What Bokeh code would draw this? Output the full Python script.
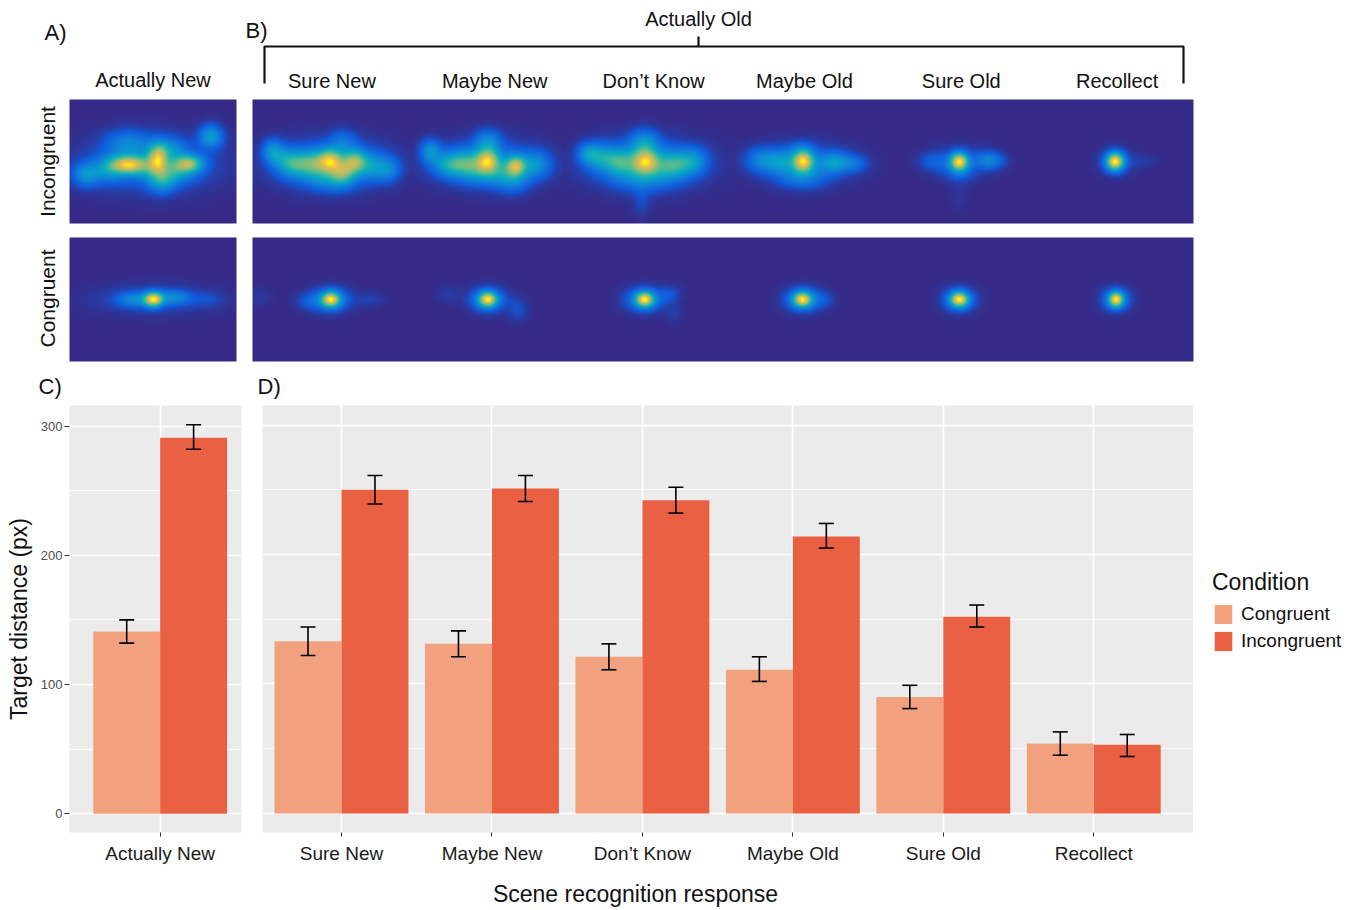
import numpy as np
from bokeh.plotting import figure
from bokeh.models import (Range1d, FixedTicker, LinearColorMapper, Legend, LegendItem,
                          ColumnDataSource, Whisker, TeeHead, Label)
from bokeh.layouts import column, row
from bokeh.embed import file_html
from bokeh.resources import INLINE
from bokeh.core.properties import value

FONT = "Liberation Sans"
INK = "#111111"
CONG_COLOR = "#F2A17F"
INC_COLOR = "#EA6043"
PANEL_BG = "#EBEBEB"

# ---------------- data: bar charts ----------------
conditions = ["Congruent", "Incongruent"]

new_category = ["Actually New"]
new_cong_mean = [141]
new_cong_lo = [132]
new_cong_hi = [150]
new_inc_mean = [291]
new_inc_lo = [282]
new_inc_hi = [301]

responses = ["Sure New", "Maybe New", "Don\u2019t Know", "Maybe Old", "Sure Old", "Recollect"]
cong_mean = [133, 131, 121, 111, 90, 54]
cong_lo = [122, 121, 111, 102, 81, 45]
cong_hi = [144, 141, 131, 121, 99, 63]
inc_mean = [250, 251, 242, 214, 152, 53]
inc_lo = [239, 241, 232, 205, 144, 44]
inc_hi = [261, 261, 252, 224, 161, 61]

y_ticks = [0, 100, 200, 300]
y_minor_ticks = [50, 150, 250]

# ---------------- data: fixation density blobs (dx, dy, sx, sy, weight) ----------------
inc_actually_new = [(-26, 3, 12, 6, 0.6), (4, -3, 6, 10, 0.55), (35, 2, 10, 6, 0.55), (57, -25, 8, 8, 0.35),
                    (8, 20, 9, 8, 0.3), (-67, 13, 9, 8, 0.3), (-45, 8, 11, 9, 0.25), (-25, -18, 15, 9, 0.22),
                    (15, -12, 11, 8, 0.25), (22, 10, 13, 8, 0.28), (-10, 5, 15, 8, 0.25), (-3, 2, 42, 18, 0.18)]
inc_sure_new = [(0, -1, 8, 8, 0.55), (24, 0, 8, 8, 0.5), (12, 11, 8, 8, 0.35), (-15, 2, 10, 9, 0.35),
                (-32, 3, 10, 9, 0.3), (-58, -10, 7, 8, 0.3), (-45, 0, 9, 9, 0.25), (42, 5, 10, 9, 0.25),
                (58, 8, 8, 8, 0.2), (0, 18, 16, 8, 0.22), (12, -20, 9, 8, 0.15), (0, 2, 38, 16, 0.2)]
inc_maybe_new = [(0, -1, 8, 8, 0.6), (28, 4, 7, 7, 0.55), (0, -20, 9, 8, 0.25), (-57, -10, 7, 8, 0.28),
                 (-22, 2, 11, 9, 0.35), (-40, 3, 10, 8, 0.28), (48, 3, 10, 9, 0.25), (25, 18, 11, 9, 0.22),
                 (0, 12, 16, 8, 0.22), (0, 2, 36, 15, 0.2)]
inc_dont_know = [(1, 0, 9, 8, 0.6), (0, -18, 10, 9, 0.3), (-25, 0, 11, 9, 0.35), (-45, -5, 10, 9, 0.28),
                 (-57, -8, 7, 7, 0.22), (28, 3, 11, 9, 0.35), (48, 0, 10, 9, 0.28), (-3, 40, 6, 10, 0.07),
                 (0, 15, 20, 9, 0.22), (0, 2, 38, 16, 0.2)]
inc_maybe_old = [(1, 0, 7, 7, 0.7), (32, 1, 10, 7, 0.3), (-22, 0, 11, 8, 0.25), (-42, -2, 10, 8, 0.2),
                 (52, 2, 9, 6, 0.15), (0, 15, 16, 8, 0.2), (0, -10, 9, 7, 0.15), (0, 2, 32, 13, 0.15)]
inc_sure_old = [(0, 0, 6, 6, 0.85), (30, -1, 10, 6, 0.25), (-25, 0, 10, 6, 0.12), (0, 10, 10, 7, 0.12),
                (0, 35, 6, 10, 0.03), (0, 0, 20, 11, 0.1)]
inc_recollect = [(-1, 0, 6, 6, 1.0), (0, 0, 12, 9, 0.12), (28, 0, 9, 4, 0.05)]

con_actually_new = [(0, 0, 6, 5, 1.0), (-18, 0, 12, 5, 0.3), (20, -2, 12, 5, 0.3), (0, 0, 40, 10, 0.12),
                    (55, 0, 10, 5, 0.08)]
con_sure_new = [(0, 0, 6, 5, 1.0), (0, 0, 13, 8, 0.38), (-20, 2, 10, 6, 0.15), (40, 0, 10, 5, 0.08),
                (-70, -3, 8, 6, 0.05)]
con_maybe_new = [(0, 0, 6, 5, 1.0), (0, 0, 12, 8, 0.38), (30, 10, 7, 8, 0.12), (-40, -5, 8, 6, 0.06)]
con_dont_know = [(0, 0, 6, 5, 1.0), (0, 0, 13, 8, 0.38), (25, -5, 8, 6, 0.12), (30, 15, 6, 6, 0.06)]
con_maybe_old = [(0, 0, 6, 5, 1.0), (0, 0, 12, 8, 0.38), (20, 0, 8, 6, 0.12)]
con_sure_old = [(0, 0, 6, 5, 1.0), (0, 0, 11, 8, 0.33)]
con_recollect = [(0, 0, 5, 5, 1.0), (0, 0, 10, 8, 0.28)]

inc_old_blobs = [inc_sure_new, inc_maybe_new, inc_dont_know, inc_maybe_old, inc_sure_old, inc_recollect]
con_old_blobs = [con_sure_new, con_maybe_new, con_dont_know, con_maybe_old, con_sure_old, con_recollect]

# ---------------- parula-like palette ----------------
anchors = [(0.0, (53, 42, 135)), (0.12, (15, 92, 221)), (0.25, (18, 125, 216)), (0.38, (7, 156, 207)),
           (0.5, (21, 177, 180)), (0.62, (89, 189, 140)), (0.75, (165, 190, 107)), (0.87, (225, 185, 82)),
           (0.95, (252, 206, 46)), (1.0, (249, 251, 14))]
palette = []
for i in range(256):
    t = i / 255
    for (t0, c0), (t1, c1) in zip(anchors[:-1], anchors[1:]):
        if t0 <= t <= t1:
            f = (t - t0) / (t1 - t0)
            c = [int(round(a + (b - a) * f)) for a, b in zip(c0, c1)]
            palette.append("#%02x%02x%02x" % tuple(c))
            break
mapper = LinearColorMapper(palette=palette, low=0, high=1)

# ---------------- top figure (heatmaps) ----------------
TOP_H = 400


def Y(ry):
    return TOP_H - ry


top = figure(width=1352, height=TOP_H, x_range=Range1d(0, 1352), y_range=Range1d(0, TOP_H),
             output_backend="svg", toolbar_location=None, x_axis_location=None, y_axis_location=None,
             min_border=0, outline_line_color=None)
top.grid.visible = False

A_X = (69, 236)
B_X = (252, 1193)
ROW_INC = (99, 223)
ROW_CON = (237, 361)
col_w = (B_X[1] - B_X[0]) / len(responses)
col_centers = [B_X[0] + (i + 0.5) * col_w for i in range(len(responses))]
label_shift = [1, 7, 9, 3, 3, 2]
a_center = (A_X[0] + A_X[1]) / 2


def density(x0, x1, y0, y1, centers, blob_sets, res=2.0):
    xs = np.arange(x0 + res / 2, x1, res)
    ys = np.arange(y1 - res / 2, y0, -res)
    X, Yg = np.meshgrid(xs, ys)
    out = np.zeros_like(X)
    cy = (y0 + y1) / 2
    for cx, blobs in zip(centers, blob_sets):
        d = np.zeros_like(X)
        for dx, dy, sx, sy, w in blobs:
            d += w * np.exp(-0.5 * ((X - cx - dx) / sx) ** 2 - 0.5 * ((Yg - cy - dy) / sy) ** 2)
        out = np.maximum(out, d / d.max())
    return out


panels = [
    (A_X, ROW_INC, [a_center], [inc_actually_new]),
    (A_X, ROW_CON, [a_center], [con_actually_new]),
    (B_X, ROW_INC, col_centers, inc_old_blobs),
    (B_X, ROW_CON, col_centers, con_old_blobs),
]
for (x0, x1), (y0, y1), centers, blobs in panels:
    img = density(x0, x1, y0, y1, centers, blobs)
    top.image(image=[img], x=x0, y=Y(y1), dw=x1 - x0, dh=y1 - y0, color_mapper=mapper)

# bracket for "Actually Old"
top.line(x=[264, 264, 1183, 1183], y=[Y(83), Y(46), Y(46), Y(83)], line_width=2.2, line_color=INK)
top.segment(x0=[698], y0=[Y(36)], x1=[698], y1=[Y(46)], line_width=2.2, line_color=INK)

top.text(x=[c + s for c, s in zip(col_centers, label_shift)], y=[Y(80)] * len(responses), text=responses,
         text_align="center", text_baseline="middle", text_font=value(FONT), text_font_size="20px",
         text_color=INK)
top.text(x=[a_center], y=[Y(79)], text=new_category, text_align="center", text_baseline="middle",
         text_font=value(FONT), text_font_size="20px", text_color=INK)


def add_label(fig, x, y, text, size, angle=0.0, align="left", baseline="middle"):
    fig.add_layout(Label(x=x, y=y, text=text, text_font=FONT, text_font_size=size, text_color=INK,
                         text_align=align, text_baseline=baseline, angle=angle))


add_label(top, 698, Y(18), "Actually Old", "20px", align="center")
add_label(top, 44, Y(32), "A)", "22px")
add_label(top, 245, Y(30), "B)", "22px")
add_label(top, 38, Y(386), "C)", "22px")
add_label(top, 257, Y(386), "D)", "22px")
add_label(top, 47, Y(161), "Incongruent", "21px", angle=np.pi / 2, align="center")
add_label(top, 47, Y(298), "Congruent", "21px", angle=np.pi / 2, align="center")


# ---------------- bar charts ----------------
def style_panel(p):
    p.background_fill_color = PANEL_BG
    p.border_fill_color = "white"
    p.outline_line_color = None
    p.xgrid.grid_line_color = "white"
    p.xgrid.grid_line_width = 1.6
    p.ygrid.grid_line_color = "white"
    p.ygrid.grid_line_width = 1.6
    p.ygrid.minor_grid_line_color = "white"
    p.ygrid.minor_grid_line_width = 0.8
    p.xaxis.axis_line_color = None
    p.xaxis.major_tick_line_color = "#333333"
    p.xaxis.major_tick_out = 4
    p.xaxis.major_tick_in = 0
    p.xaxis.minor_tick_line_color = None
    p.xaxis.major_label_standoff = 6
    p.xaxis.major_label_text_font = FONT
    p.xaxis.major_label_text_font_size = "19px"
    p.xaxis.major_label_text_color = "#1a1a1a"


def draw_bars(p, cats, cm, clo, chi, im, ilo, ihi):
    xs = [i + 1 for i in range(len(cats))]
    src_c = ColumnDataSource(dict(x=[x - 0.2225 for x in xs], top=cm, lo=clo, hi=chi))
    src_i = ColumnDataSource(dict(x=[x + 0.2225 for x in xs], top=im, lo=ilo, hi=ihi))
    p.vbar(x="x", top="top", bottom=0, width=0.445, source=src_c, fill_color=CONG_COLOR, line_color=None)
    p.vbar(x="x", top="top", bottom=0, width=0.445, source=src_i, fill_color=INC_COLOR, line_color=None)
    for src in (src_c, src_i):
        w = Whisker(source=src, base="x", lower="lo", upper="hi", line_color="black", line_width=1.6,
                    upper_head=TeeHead(size=15, line_color="black", line_width=1.6),
                    lower_head=TeeHead(size=15, line_color="black", line_width=1.6))
        w.level = "overlay"
        p.add_layout(w)
    p.xaxis.ticker = FixedTicker(ticks=xs)
    p.xaxis.major_label_overrides = {x: c for x, c in zip(xs, cats)}
    return src_c, src_i


BOT_H = 475

pc = figure(width=250, height=BOT_H, x_range=Range1d(0.397, 1.541), y_range=Range1d(-14.6, 315.9),
            output_backend="svg", toolbar_location=None, min_border_left=69, min_border_right=9,
            min_border_top=5, min_border_bottom=40)
style_panel(pc)
draw_bars(pc, new_category, new_cong_mean, new_cong_lo, new_cong_hi, new_inc_mean, new_inc_lo, new_inc_hi)
pc.yaxis.ticker = FixedTicker(ticks=y_ticks, minor_ticks=y_minor_ticks)
pc.yaxis.axis_line_color = None
pc.yaxis.major_tick_line_color = "#333333"
pc.yaxis.major_tick_out = 5
pc.yaxis.major_tick_in = 0
pc.yaxis.minor_tick_line_color = None
pc.yaxis.major_label_standoff = 2
pc.yaxis.major_label_text_font = FONT
pc.yaxis.major_label_text_font_size = "13px"
pc.yaxis.major_label_text_color = "#4d4d4d"
pc.yaxis.axis_label = "Target distance (px)"
pc.yaxis.axis_label_text_font = FONT
pc.yaxis.axis_label_text_font_size = "23px"
pc.yaxis.axis_label_text_font_style = "normal"
pc.yaxis.axis_label_text_color = INK
pc.yaxis.axis_label_standoff = 6

pdd = figure(width=943, height=BOT_H, x_range=Range1d(0.475, 6.663), y_range=Range1d(-14.7, 315.1),
             output_backend="svg", toolbar_location=None, min_border_left=12, min_border_right=0,
             min_border_top=5, min_border_bottom=43)
style_panel(pdd)
d_src_c, d_src_i = draw_bars(pdd, responses, cong_mean, cong_lo, cong_hi, inc_mean, inc_lo, inc_hi)
pdd.yaxis.visible = False
pdd.ygrid.ticker = FixedTicker(ticks=y_ticks, minor_ticks=y_minor_ticks)

# ---------------- legend panel ----------------
leg = figure(width=167, height=BOT_H, x_range=Range1d(0, 1), y_range=Range1d(0, 1),
             output_backend="svg", toolbar_location=None, x_axis_location=None, y_axis_location=None,
             min_border=0, outline_line_color=None)
leg.grid.visible = False
lr_c = leg.vbar(x="x", top="top", width=0.445, source=d_src_c, fill_color=CONG_COLOR, line_color=None,
                visible=False)
lr_i = leg.vbar(x="x", top="top", width=0.445, source=d_src_i, fill_color=INC_COLOR, line_color=None,
                visible=False)
legend = Legend(items=[LegendItem(label=conditions[0], renderers=[lr_c]),
                       LegendItem(label=conditions[1], renderers=[lr_i])],
                title="Condition", location=(19, 179))
legend.title_text_font = FONT
legend.title_text_font_size = "23px"
legend.title_text_font_style = "normal"
legend.title_text_color = INK
legend.title_standoff = 6
legend.label_text_font = FONT
legend.label_text_font_size = "19px"
legend.label_text_color = INK
legend.glyph_width = 22
legend.glyph_height = 24
legend.spacing = 3
legend.label_standoff = 7
legend.margin = 0
legend.padding = 10
legend.border_line_color = None
legend.background_fill_alpha = 0
legend.inactive_fill_alpha = 0
leg.add_layout(legend)

# ---------------- x-axis title strip ----------------
STRIP_H = 34
strip = figure(width=1352, height=STRIP_H, x_range=Range1d(0, 1352), y_range=Range1d(0, STRIP_H),
               output_backend="svg", toolbar_location=None, x_axis_location=None, y_axis_location=None,
               min_border=0, outline_line_color=None)
strip.grid.visible = False
add_label(strip, 635, STRIP_H - 18, "Scene recognition response", "23px", align="center")

layout = column(top, row(pc, pdd, leg), strip)
open("out.html", "w").write(file_html(layout, INLINE, "plot"))
